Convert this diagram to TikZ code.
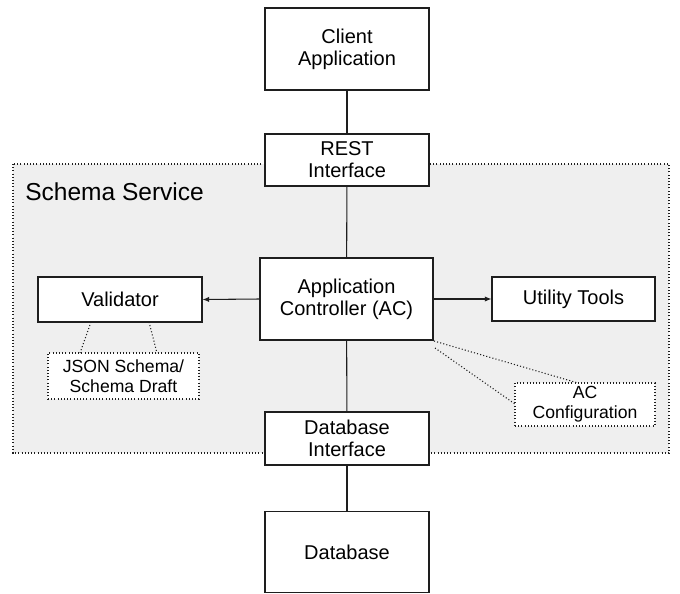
\documentclass[tikz,border=0pt]{standalone}
\usepackage{fontspec}
\setmainfont{Liberation Sans}
\usetikzlibrary{arrows.meta}
\definecolor{regiongray}{RGB}{239,239,239}
\definecolor{linegray}{RGB}{30,30,30}
\begin{document}
\begin{tikzpicture}[x=0.75pt,y=-0.75pt,
  box/.style={draw=linegray,line width=0.8pt,fill=white,rectangle,align=center,inner sep=0pt,font=\fontsize{15}{16.5}\selectfont},
  notebox/.style={draw=linegray,line width=0.8pt,dash pattern=on 0.8pt off 1.6pt,fill=white,rectangle,align=center,inner sep=0pt,font=\fontsize{13.2}{15}\selectfont},
  link/.style={draw=linegray,line width=0.8pt},
  arrowlink/.style={draw=linegray,line width=0.8pt,-{Latex[length=5pt,width=4pt]}},
  dotlink/.style={draw=linegray,line width=0.8pt,dash pattern=on 0.8pt off 1.6pt}]
\useasboundingbox (0,0) rectangle (680,593);
% region
\draw[fill=regiongray,draw=linegray,line width=0.8pt,dash pattern=on 0.8pt off 1.6pt] (13,164) rectangle (669,453);
\node[anchor=west,font=\fontsize{18.4}{20}\selectfont,inner sep=0pt] (title) at (25,192) {Schema Service};
% nodes
\node[box,minimum width=164*0.75pt,minimum height=82*0.75pt] (client) at (347,49) {Client\\Application};
\node[box,minimum width=164*0.75pt,minimum height=52*0.75pt] (rest) at (347,160) {REST\\Interface};
\node[box,minimum width=173*0.75pt,minimum height=82*0.75pt] (ac) at (346.5,299) {Application\\Controller (AC)};
\node[box,minimum width=164*0.75pt,minimum height=45*0.75pt] (validator) at (120,299.5) {Validator};
\node[box,minimum width=163*0.75pt,minimum height=44*0.75pt] (utility) at (573.5,299) {Utility Tools};
\node[notebox,minimum width=151*0.75pt,minimum height=46*0.75pt] (json) at (123.5,376) {JSON Schema/\\Schema Draft};
\node[notebox,minimum width=140*0.75pt,minimum height=43*0.75pt] (acconf) at (585,404.5) {AC\\Configuration};
\node[box,minimum width=164*0.75pt,minimum height=53*0.75pt] (dbi) at (347,438.5) {Database\\Interface};
\node[box,minimum width=164*0.75pt,minimum height=81*0.75pt] (db) at (347,552) {Database};
% connectors
\draw[link] (client) -- (rest);
\draw[link] (rest) -- (ac);
\draw[link] (ac) -- (dbi);
\draw[link] (dbi) -- (db);
\draw[arrowlink] (ac.west) -- (validator.east);
\draw[arrowlink] (ac.east) -- (utility.west);
% dotted annotation links
\coordinate (v1) at (91,322);
\coordinate (v2) at (149,322);
\coordinate (j1) at (80,353);
\coordinate (j2) at (157,353);
\coordinate (a1) at (434,341);
\coordinate (a2) at (435,348);
\coordinate (c1) at (578,383);
\coordinate (c2) at (515,404);
\draw[dotlink] (v1) -- (j1);
\draw[dotlink] (v2) -- (j2);
\draw[dotlink] (a1) -- (c1);
\draw[dotlink] (a2) -- (c2);
\end{tikzpicture}
\end{document}
